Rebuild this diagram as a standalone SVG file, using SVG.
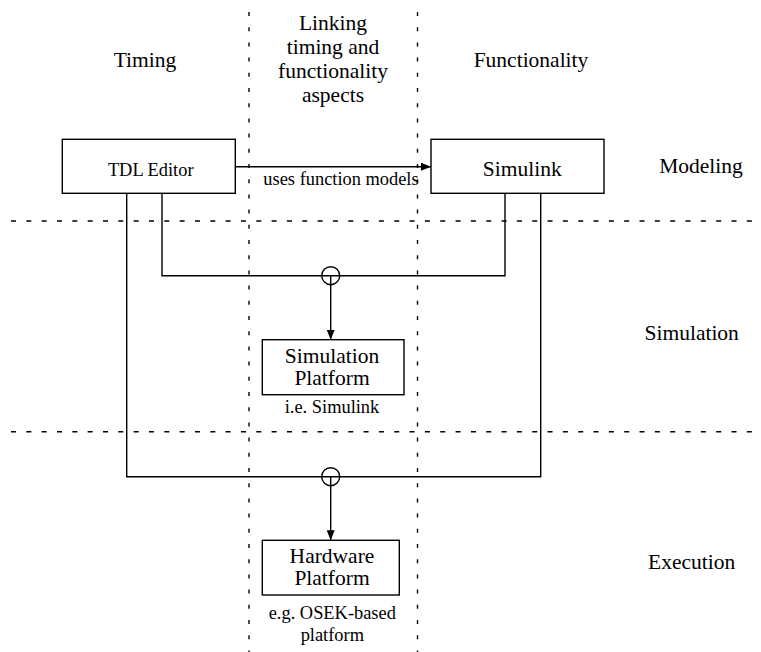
<svg xmlns="http://www.w3.org/2000/svg" width="761" height="652" viewBox="0 0 761 652" font-family="'Liberation Serif', 'Times New Roman', Times, serif">
<style>
text{font-family:'Liberation Serif','Times New Roman',Times,serif;fill:#000;text-anchor:middle}
.big{font-size:21.5px}
.small{font-size:18.4px}
.box{fill:#fff;stroke:#000;stroke-width:1.4}
.line{fill:none;stroke:#000;stroke-width:1.4}
.hdash{stroke:#000;stroke-width:1.4;stroke-dasharray:5 10.33}
.vdash{stroke:#000;stroke-width:1.4;stroke-dasharray:4 11.2}
</style>
<defs>
<marker id="arr" markerWidth="10" markerHeight="8" refX="10" refY="4" orient="auto" markerUnits="userSpaceOnUse">
<path d="M0,0 L10,4 L0,8 Z" fill="#000"/>
</marker>
</defs>
<rect width="761" height="652" fill="#fff"/>
<g id="grid">
<line class="vdash" x1="249" y1="12" x2="249" y2="652"/>
<line class="vdash" x1="417.5" y1="12" x2="417.5" y2="652"/>
<line class="hdash" x1="11" y1="221" x2="761" y2="221"/>
<line class="hdash" x1="11" y1="431.7" x2="761" y2="431.7"/>
</g>
<g id="labels">
<text class="big" x="145" y="66.7">Timing</text>
<text class="big" x="333" y="29.5">Linking</text>
<text class="big" x="333" y="53.5">timing and</text>
<text class="big" x="333" y="78">functionality</text>
<text class="big" x="333" y="101.7">aspects</text>
<text class="big" x="531" y="66.7">Functionality</text>
<text class="big" x="701" y="172.5">Modeling</text>
<text class="big" x="691.7" y="339.5">Simulation</text>
<text class="big" x="691.7" y="568.5">Execution</text>
</g>
<g id="connectors">
<line class="line" x1="235.3" y1="166.7" x2="431" y2="166.7" marker-end="url(#arr)"/>
<text class="small" x="341" y="185">uses function models</text>
<polyline class="line" points="162,193.3 162,275.7 505,275.7 505,193.3"/>
<polyline class="line" points="126.7,193.3 126.7,476.7 540.7,476.7 540.7,193.3"/>
<circle class="line" cx="330.7" cy="275.7" r="9"/>
<circle class="line" cx="330.7" cy="476.7" r="9"/>
<line class="line" x1="330.7" y1="275.7" x2="330.7" y2="339.7" marker-end="url(#arr)"/>
<line class="line" x1="330.7" y1="476.7" x2="330.7" y2="540.3" marker-end="url(#arr)"/>
</g>
<g id="tdl-editor">
<rect class="box" x="62.3" y="139.3" width="173" height="54"/>
<text class="small" x="150.7" y="175.7">TDL Editor</text>
</g>
<g id="simulink">
<rect class="box" x="431" y="139.3" width="173" height="54"/>
<text class="big" x="522.3" y="175.7">Simulink</text>
</g>
<g id="simulation-platform">
<rect class="box" x="262.3" y="339.7" width="141.7" height="55"/>
<text class="big" x="332" y="363">Simulation</text>
<text class="big" x="332" y="385">Platform</text>
<text class="small" x="332" y="412.7">i.e. Simulink</text>
</g>
<g id="hardware-platform">
<rect class="box" x="262.3" y="540.3" width="137" height="54.7"/>
<text class="big" x="332" y="563">Hardware</text>
<text class="big" x="332" y="585">Platform</text>
<text class="small" x="332.3" y="619.3">e.g. OSEK-based</text>
<text class="small" x="332.3" y="640.7">platform</text>
</g>
</svg>
